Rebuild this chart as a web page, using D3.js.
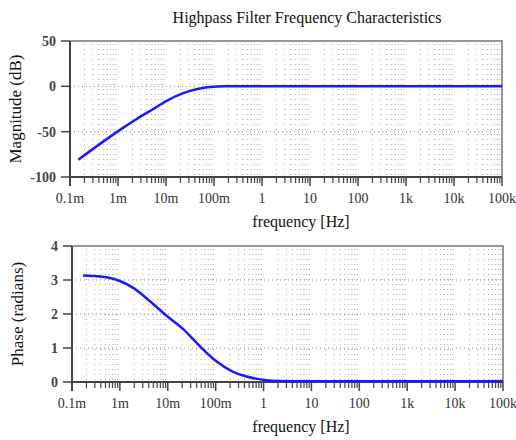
<!DOCTYPE html>
<html>
<head>
<meta charset="utf-8">
<script src="https://cdn.jsdelivr.net/npm/d3@7"></script>
<style>
  body { margin: 0; background: #fff; }
</style>
</head>
<body>
<svg id="chart" width="516" height="440"></svg>
<script>
const SERIF = '"Liberation Serif", "DejaVu Serif", serif';

// frequency axis (Hz), decades 0.1m .. 100k
const freqTicks = [1e-4, 1e-3, 1e-2, 1e-1, 1, 10, 100, 1e3, 1e4, 1e5];
const freqLabels = ["0.1m", "1m", "10m", "100m", "1", "10", "100", "1k", "10k", "100k"];

// magnitude curve
const magFreq = [1.49e-4, 4.9e-4, 1.1e-3, 2.45e-3, 5.4e-3, 0.0103, 0.0229, 0.0513, 0.083, 0.17, 1, 10, 100, 1e3, 1e4, 1e5];
const magDb   = [-81, -61, -48, -36, -25, -16, -7.5, -2.5, -0.8, 0, 0, 0, 0, 0, 0, 0];
const magTicks = [50, 0, -50, -100];

// phase curve
const phaseFreq = [1.7e-4, 3.9e-4, 1.0e-3, 1.94e-3, 4.3e-3, 9.6e-3, 0.0213, 0.047, 0.105, 0.23, 0.44, 1.05, 2, 10, 100, 1e3, 1e4, 1e5];
const phaseRad  = [3.13, 3.10, 2.97, 2.76, 2.37, 1.94, 1.55, 1.05, 0.60, 0.30, 0.16, 0.06, 0.03, 0.02, 0.02, 0.02, 0.02, 0.02];
const phaseTicks = [0, 1, 2, 3, 4];

const svg = d3.select('#chart');

svg.append('text')
    .attr('x', 307).attr('y', 23)
    .attr('text-anchor', 'middle')
    .attr('font-family', SERIF)
    .attr('font-size', 16)
    .attr('fill', '#111')
    .text('Highpass Filter Frequency Characteristics');

function drawPanel(opt) {
    const x = d3.scaleLog().domain([1e-4, 1e5]).range([opt.left, opt.right]);
    const y = d3.scaleLinear().domain(opt.yDomain).range([opt.bottom, opt.top]);
    const g = svg.append('g');

    // minor vertical grid (2..9 in each decade)
    const minors = [];
    for (let d = -4; d < 5; d++) {
        for (let m = 2; m <= 9; m++) minors.push(m * Math.pow(10, d));
    }
    g.selectAll('.vgrid').data(minors).enter().append('line')
        .attr('x1', d => x(d)).attr('x2', d => x(d))
        .attr('y1', opt.top + 3).attr('y2', opt.bottom)
        .attr('stroke', '#a8a8a8')
        .attr('stroke-width', 1)
        .attr('stroke-dasharray', '1,4');

    // horizontal grid at inner y ticks
    const inner = opt.yTicks.filter(v => v !== opt.yDomain[0] && v !== opt.yDomain[1]);
    g.selectAll('.hgrid').data(inner).enter().append('line')
        .attr('x1', opt.left).attr('x2', opt.right)
        .attr('y1', d => y(d)).attr('y2', d => y(d))
        .attr('stroke', '#888')
        .attr('stroke-width', 1)
        .attr('stroke-dasharray', '1,3');

    // frame top/right
    g.append('path')
        .attr('d', `M${opt.left},${opt.top}H${opt.right}V${opt.bottom}`)
        .attr('fill', 'none')
        .attr('stroke', '#777')
        .attr('stroke-width', 1.5);

    // x axis: major ticks long, minor short, both pointing down
    const xAxis = g.append('g').attr('transform', `translate(0,${opt.bottom})`);
    xAxis.selectAll('.minor').data(minors).enter().append('line')
        .attr('x1', d => x(d)).attr('x2', d => x(d))
        .attr('y1', 0).attr('y2', 6)
        .attr('stroke', '#444').attr('stroke-width', 1.2);
    xAxis.selectAll('.major').data(freqTicks).enter().append('line')
        .attr('x1', d => x(d)).attr('x2', d => x(d))
        .attr('y1', 0).attr('y2', 9)
        .attr('stroke', '#444').attr('stroke-width', 1.5);
    xAxis.append('line')
        .attr('x1', opt.left).attr('x2', opt.right)
        .attr('stroke', '#444').attr('stroke-width', 2);
    xAxis.selectAll('.lbl').data(freqTicks).enter().append('text')
        .attr('x', d => x(d)).attr('y', 26)
        .attr('text-anchor', 'middle')
        .attr('font-family', SERIF)
        .attr('font-size', 14)
        .attr('fill', '#333')
        .text((d, i) => freqLabels[i]);

    // y axis
    const yAxis = g.append('g').attr('transform', `translate(${opt.left},0)`);
    yAxis.append('line')
        .attr('y1', opt.top).attr('y2', opt.bottom + 9)
        .attr('stroke', '#444').attr('stroke-width', 2);
    yAxis.selectAll('.tk').data(opt.yTicks).enter().append('line')
        .attr('x1', -9).attr('x2', 0)
        .attr('y1', d => y(d)).attr('y2', d => y(d))
        .attr('stroke', '#444').attr('stroke-width', 1.5);
    yAxis.selectAll('.lbl').data(opt.yTicks).enter().append('text')
        .attr('x', -14).attr('y', d => y(d))
        .attr('dy', '0.35em')
        .attr('text-anchor', 'end')
        .attr('font-family', SERIF)
        .attr('font-size', 14)
        .attr('font-weight', 'bold')
        .attr('fill', '#444')
        .text(d => d);

    // labels
    g.append('text')
        .attr('x', 301).attr('y', opt.bottom + 50)
        .attr('text-anchor', 'middle')
        .attr('font-family', SERIF)
        .attr('font-size', 16)
        .attr('fill', '#111')
        .text('frequency [Hz]');
    g.append('text')
        .attr('transform', `translate(${opt.yLabelX},${(opt.top + opt.bottom) / 2}) rotate(-90)`)
        .attr('text-anchor', 'middle')
        .attr('font-family', SERIF)
        .attr('font-size', 17)
        .attr('fill', '#111')
        .text(opt.yLabel);

    // curve
    const line = d3.line()
        .x(d => x(d[0]))
        .y(d => y(d[1]))
        .curve(d3.curveMonotoneX);
    g.append('path')
        .datum(d3.zip(opt.xs, opt.ys))
        .attr('d', line)
        .attr('fill', 'none')
        .attr('stroke', '#1a1aff')
        .attr('stroke-width', 2.5);
}

drawPanel({
    left: 70, right: 502, top: 41, bottom: 177,
    yDomain: [-100, 50], yTicks: magTicks,
    yLabel: 'Magnitude (dB)', yLabelX: 21,
    xs: magFreq, ys: magDb
});

drawPanel({
    left: 72, right: 503, top: 246, bottom: 382,
    yDomain: [0, 4], yTicks: phaseTicks,
    yLabel: 'Phase (radians)', yLabelX: 23,
    xs: phaseFreq, ys: phaseRad
});
</script>
</body>
</html>
